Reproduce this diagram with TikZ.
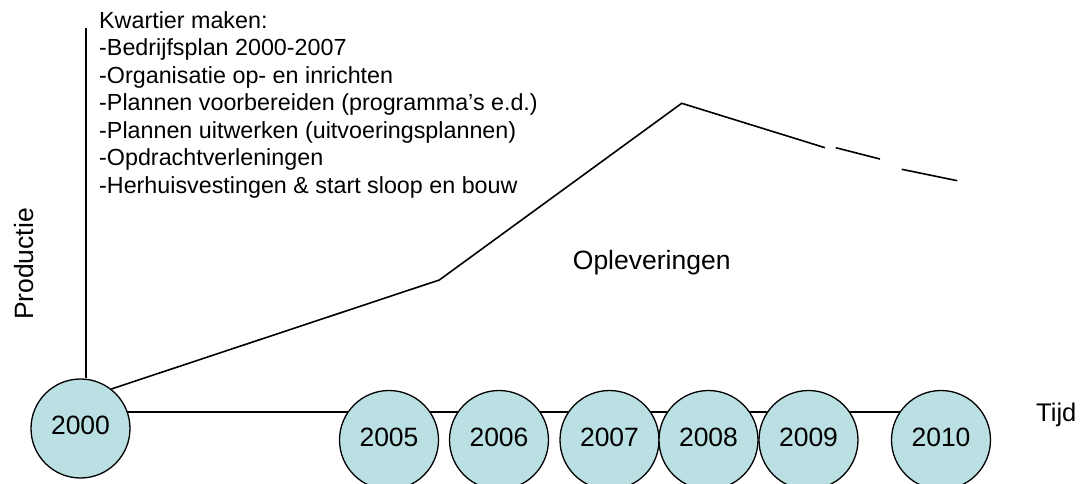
\documentclass[tikz,border=0pt]{standalone}
\usepackage{fontspec}
\setmainfont{Liberation Sans}
\usetikzlibrary{backgrounds}
\definecolor{yearfill}{HTML}{BBE0E3}
\begin{document}
\begin{tikzpicture}[x=1pt,y=-1pt,
  yearnode/.style={circle, draw=black, line width=1.3pt, fill=yearfill, minimum size=99pt, inner sep=0pt,
    font=\fontsize{26.5}{30}\selectfont, text height=19pt, text depth=7pt},
  axisline/.style={line width=1.3pt},
  prodline/.style={line width=1.6pt, line join=miter},
  biglbl/.style={inner sep=0pt, font=\fontsize{26.5}{30}\selectfont},
  smalllbl/.style={inner sep=0pt, font=\fontsize{23.3}{27.5}\selectfont}]
\useasboundingbox (0,0) rectangle (1082,484);
\clip (0,0) rectangle (1082,484);

% year circles
\node[yearnode] (y2000) at (80.5,428.5) {2000};
\node[yearnode] (y2005) at (389,440) {2005};
\node[yearnode] (y2006) at (499,440) {2006};
\node[yearnode] (y2007) at (609.5,440) {2007};
\node[yearnode] (y2008) at (708.5,440) {2008};
\node[yearnode] (y2009) at (808.5,440) {2009};
\node[yearnode] (y2010) at (941,440) {2010};

% labels
\node[inner sep=0pt, font=\fontsize{25.5}{29}\selectfont, anchor=base west] (tijd) at (1036,421) {Tijd};
\node[biglbl, rotate=90, anchor=base] (prod) at (33.3,264) {Productie};
\node[biglbl, anchor=base] (opl) at (651.7,269.3) {Opleveringen};
\node[smalllbl, anchor=north west, align=left] (list) at (99,11)
  {Kwartier maken:\\
   -Bedrijfsplan 2000-2007\\
   -Organisatie op- en inrichten\\
   -Plannen voorbereiden (programma’s e.d.)\\
   -Plannen uitwerken (uitvoeringsplannen)\\
   -Opdrachtverleningen\\
   -Herhuisvestingen \& start sloop en bouw};

% coordinates of the production curve
\coordinate (top) at (86,28);
\coordinate (k1) at (439.3,280);
\coordinate (peak) at (681.7,103.3);
\coordinate (d1) at (825,147.7);
\coordinate (d2) at (835.7,147.7);
\coordinate (d3) at (880,159);
\coordinate (d4) at (901.7,169.3);
\coordinate (d5) at (957.3,180.7);

\begin{scope}[on background layer]
  \draw[axisline] (top) -- (top |- y2000.north);
  \draw[axisline] (y2000.center |- 0,412) -- (y2010.center |- 0,412);
  \draw[prodline] (y2000.52.5) -- (k1) -- (peak) -- (d1);
  \draw[prodline] (d2) -- (d3);
  \draw[prodline] (d4) -- (d5);
\end{scope}
\end{tikzpicture}
\end{document}
